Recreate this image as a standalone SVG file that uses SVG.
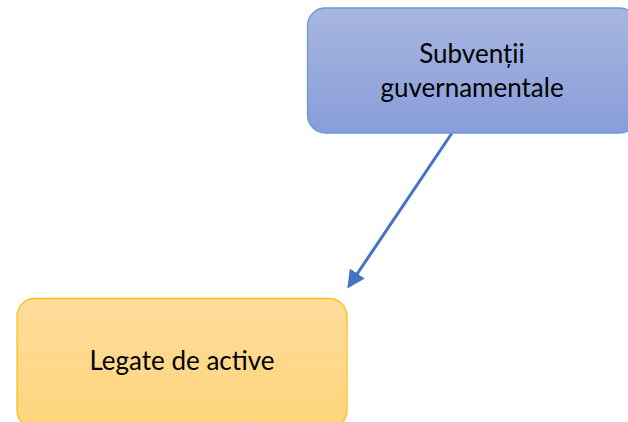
<svg xmlns="http://www.w3.org/2000/svg" width="628" height="422" viewBox="0 0 628 422">
<defs>
<linearGradient id="gBlue" x1="0" y1="0" x2="0" y2="1">
<stop offset="0" stop-color="#A8B6E0"/>
<stop offset="1" stop-color="#889DD9"/>
</linearGradient>
<linearGradient id="gGold" x1="0" y1="0" x2="0" y2="1">
<stop offset="0" stop-color="#FEDC9C"/>
<stop offset="1" stop-color="#FFD57A"/>
</linearGradient>
<marker id="arr" markerWidth="6" markerHeight="6" refX="5" refY="3" orient="auto" markerUnits="strokeWidth">
<path d="M0,0 L6,3 L0,6 Z" fill="#4472C4"/>
</marker>
<style>
.lbl{font-family:Lato,"Open Sans","Liberation Sans",sans-serif;font-size:26px;fill:#000;text-anchor:middle}
</style>
</defs>
<rect width="628" height="422" fill="#FFFFFF"/>
<g id="connectors">
<line x1="452" y1="133" x2="349" y2="286" stroke="#4472C4" stroke-width="3" marker-end="url(#arr)"/>
</g>
<g id="node-subventii">
<rect x="307.5" y="8" width="330" height="125" rx="18" ry="18" fill="url(#gBlue)" stroke="#6A9AD6" stroke-width="1.3"/>
<text class="lbl" x="472" y="63">Subvenții</text>
<text class="lbl" x="472" y="97">guvernamentale</text>
</g>
<g id="node-legate">
<rect x="17" y="298.5" width="330" height="130" rx="18" ry="18" fill="url(#gGold)" stroke="#FFC117" stroke-width="1.3"/>
<text class="lbl" x="182" y="370">Legate de active</text>
</g>
</svg>
